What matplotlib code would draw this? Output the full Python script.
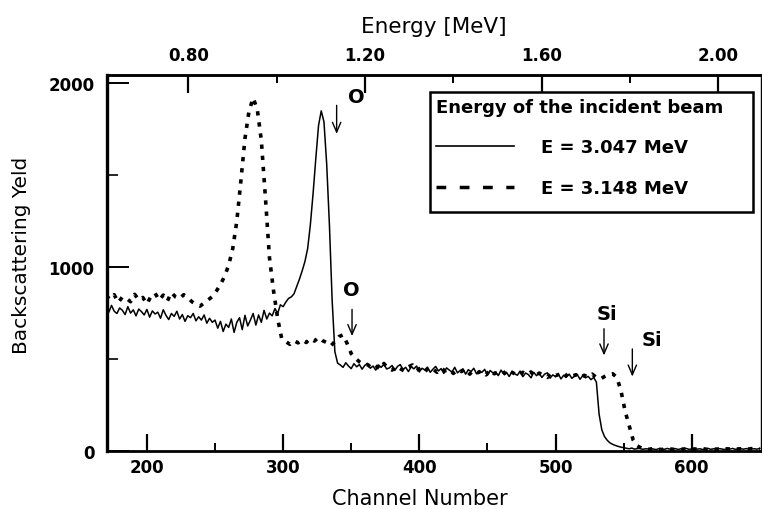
import numpy as np
import matplotlib
matplotlib.use("Agg")
import matplotlib.pyplot as plt
from matplotlib.lines import Line2D
from matplotlib.patches import Rectangle

# ---------------- data ----------------
# E = 3.047 MeV (solid), channels 170..650 step 2
ch_solid = np.arange(170, 651, 2)
y_solid = [
    # 170-250
    775, 755, 792, 760, 748, 778, 765, 742, 785, 750,
    768, 735, 772, 758, 740, 770, 728, 762, 745, 755,
    722, 768, 738, 715, 748, 732, 760, 718, 742, 705,
    736, 725, 748, 708, 730, 712, 740, 695, 722, 700, 712,
    # 252-298
    668, 705, 650, 690, 672, 718, 645, 700, 725, 660,
    738, 680, 712, 748, 685, 740, 700, 765, 718, 750,
    735, 775, 748, 795,
    # 300-340
    785, 810, 830, 838, 855, 895, 935, 980, 1030, 1100,
    1230, 1400, 1590, 1770, 1850, 1790, 1560, 1230, 820, 540, 478,
    # 342-528
    468, 455, 480, 462, 448, 475, 458, 470, 445, 466,
    476, 450, 462, 440, 468, 455, 472, 446, 452, 465,
    438, 460, 470, 444, 455, 432, 458, 447, 462, 430,
    450, 441, 456, 428, 445, 460, 435, 448, 422, 452,
    440, 430, 455, 425, 438, 446, 418, 442, 432, 450,
    420, 436, 428, 444, 412, 438, 425, 430, 410, 440,
    418, 428, 405, 432, 420, 412, 435, 404, 424, 416,
    398, 428, 410, 422, 400, 418, 425, 396, 414, 405,
    420, 392, 412, 402, 418, 395, 408, 415, 390, 410,
    398, 406, 388, 400,
    # 530-550
    375, 200, 115, 78, 58, 44, 36, 30, 25, 21, 18,
    # 552-650
    15, 12, 16, 10, 13, 14, 9, 12, 11, 15,
    10, 8, 13, 12, 9, 14, 10, 11, 13, 8,
    12, 10, 14, 9, 11, 13, 10, 12, 8, 11,
    14, 9, 12, 10, 13, 11, 8, 12, 10, 14,
    9, 11, 12, 10, 13, 9, 11, 12, 10, 14,
]

# E = 3.148 MeV (dashed), channels 170..650 step 3
ch_dash = np.arange(170, 651, 3)
y_dash = [
    # 170-245
    845, 825, 850, 808, 838, 830, 812, 852, 822, 835,
    800, 842, 858, 820, 848, 815, 862, 838, 828, 850,
    835, 812, 798, 788, 805, 822,
    # 248-299
    840, 870, 905, 950, 1010, 1100, 1250, 1470, 1700, 1850,
    1920, 1860, 1690, 1380, 1050, 870, 720, 610,
    # 302-359
    595, 580, 600, 588, 605, 590, 612, 598, 618, 600,
    590, 572, 595, 622, 632, 585, 530, 505, 485, 470,
    # 362-542
    470, 452, 465, 445, 476, 450, 440, 462, 448, 435,
    458, 468, 438, 452, 430, 455, 446, 428, 450, 436,
    445, 422, 442, 432, 448, 418, 440, 426, 436, 414,
    442, 420, 430, 438, 412, 432, 420, 408, 428, 416,
    430, 404, 424, 412, 400, 426, 410, 418, 398, 420,
    406, 415, 396, 412, 402, 418, 400, 392, 405, 415,
    420,
    # 545-563
    400, 330, 220, 140, 60, 28, 16,
    # 566-650
    12, 9, 13, 10, 8, 12, 11, 9, 13, 10,
    12, 8, 11, 10, 13, 9, 12, 10, 11, 8,
    12, 10, 9, 12, 11, 10, 13, 9, 11,
]

series_labels = ["E = 3.047 MeV", "E = 3.148 MeV"]
legend_title = "Energy of the incident beam"

x_ticks = [200, 300, 400, 500, 600]
x_tick_labels = ["200", "300", "400", "500", "600"]
x_minor = [250, 350, 450, 550]
y_ticks = [0, 1000, 2000]
y_tick_labels = ["0", "1000", "2000"]
y_minor = [500, 1500]
e_ticks = [0.80, 1.20, 1.60, 2.00]
e_tick_labels = ["0.80", "1.20", "1.60", "2.00"]
e_minor = [1.00, 1.40, 1.80]

# element markers: label, arrow channel, arrow from/to yield, text channel, text yield
markers = [
    ("O", 339.3, 1880, 1725, 354, 1930),
    ("O", 350.6, 770, 625, 350, 880),
    ("Si", 535.6, 665, 520, 538, 750),
    ("Si", 556.4, 555, 405, 571, 605),
]

assert len(y_solid) == len(ch_solid), (len(y_solid), len(ch_solid))
assert len(y_dash) == len(ch_dash), (len(y_dash), len(ch_dash))

# ---------------- plot ----------------
plt.rcParams['font.family'] = ['DejaVu Sans']

fig = plt.figure(figsize=(7.62, 5.10), dpi=100)
L, R, B, T = 107, 760.5, 452, 76
ax = fig.add_axes([L / 762, (510 - B) / 510, (R - L) / 762, (B - T) / 510])

ax.plot(ch_solid, y_solid, color='black', lw=1.1, zorder=3)
ax.plot(ch_dash, y_dash, color='black', lw=2.6,
        linestyle=(0, (1.2, 1.9)), zorder=3)

ax.set_xlim(170.7, 650.5)
ax.set_ylim(0, 2045)

ax.set_xticks(x_ticks, labels=x_tick_labels, fontweight='bold', fontsize=12)
ax.set_xticks(x_minor, minor=True)
ax.set_yticks(y_ticks, labels=y_tick_labels, fontweight='bold', fontsize=12)
ax.set_yticks(y_minor, minor=True)

ax.tick_params(axis='x', which='major', direction='in', length=12, width=1.6, pad=5)
ax.tick_params(axis='x', which='minor', direction='in', length=6, width=1.4)
ax.tick_params(axis='y', which='major', direction='in', length=16, width=1.4, pad=9)
ax.tick_params(axis='y', which='minor', direction='in', length=8, width=1.2)
ax.tick_params(top=False, right=False, which='both')

for side, w in (('left', 2.4), ('bottom', 2.0), ('top', 1.8), ('right', 1.0)):
    ax.spines[side].set_linewidth(w)

ax.set_xlabel("Channel Number", fontsize=15)
ax.set_ylabel("Backscattering Yeld", fontsize=14.5)
ax.xaxis.set_label_coords((420 - L) / (R - L), -0.098)
ax.yaxis.set_label_coords((31 - L) / (R - L), (B - 255) / (B - T))

# top energy axis
a_e, b_e = 0.0891, 0.003084
def ch2e(c):
    return a_e + b_e * np.asarray(c)
def e2ch(e):
    return (np.asarray(e) - a_e) / b_e

sec = ax.secondary_xaxis('top', functions=(ch2e, e2ch))
sec.set_xticks(e_ticks, labels=e_tick_labels, fontweight='bold', fontsize=12)
sec.set_xticks(e_minor, minor=True)
sec.tick_params(which='major', direction='in', length=13, width=1.6, pad=8)
sec.tick_params(which='minor', direction='in', length=6, width=1.4)
sec.spines['top'].set_linewidth(1.8)
sec.set_xlabel("Energy [MeV]", fontsize=15.5, labelpad=10)

# element arrows
for lab, xa, y0, y1, xt, yt in markers:
    ax.annotate('', xy=(xa, y1), xytext=(xa, y0),
                arrowprops=dict(arrowstyle='->,head_length=0.7,head_width=0.3',
                                lw=1.0, color='black', shrinkA=0, shrinkB=0))
    ax.text(xt, yt, lab, ha='center', va='center', fontsize=14, fontweight='bold')

# legend box
x0 = (430 - L) / (R - L)
x1 = (753 - L) / (R - L)
y0b = (B - 213) / (B - T)
y1b = (B - 92.5) / (B - T)
ax.add_patch(Rectangle((x0, y0b), x1 - x0, y1b - y0b, transform=ax.transAxes,
                       facecolor='white', edgecolor='black', lw=1.8, zorder=4))
handles = [Line2D([], [], color='black', lw=1.2),
           Line2D([], [], color='black', lw=2.5, linestyle=(0, (2.8, 3.9)))]
leg = ax.legend(handles, series_labels, title=legend_title,
                loc='upper left', bbox_to_anchor=(x0, y1b),
                frameon=False, prop={'weight': 'bold', 'size': 13},
                title_fontproperties={'weight': 'bold', 'size': 13},
                handlelength=4.3, handletextpad=1.5, labelspacing=1.25,
                borderpad=0.35, borderaxespad=0, alignment='left')
leg.set_zorder(5)

fig.savefig("out.png", dpi=100)
